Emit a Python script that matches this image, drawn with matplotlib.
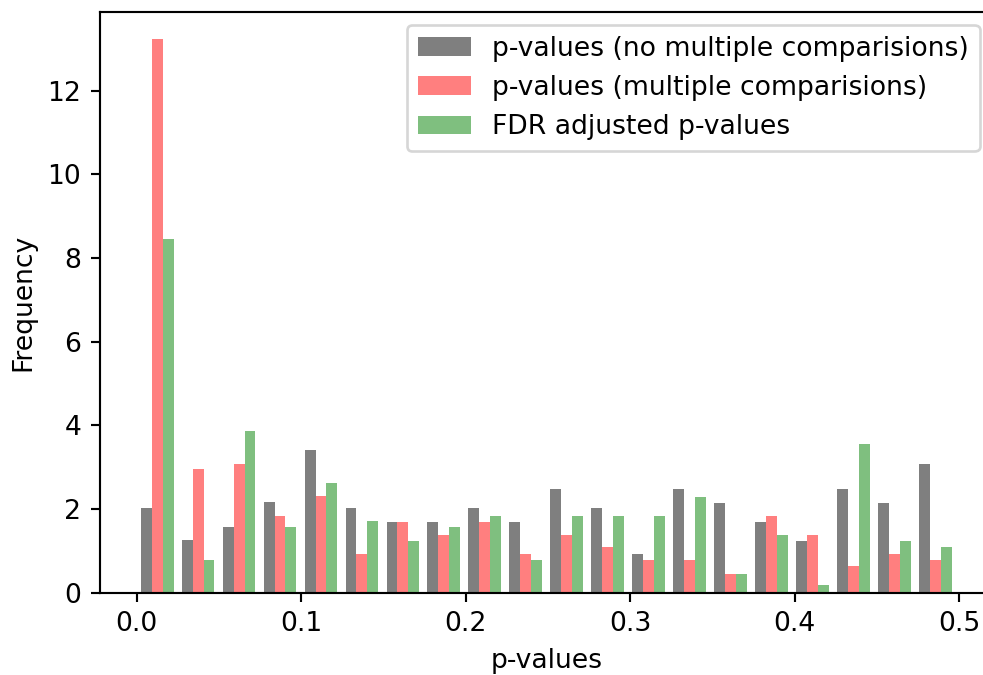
import numpy as np
import matplotlib
matplotlib.use("Agg")
import matplotlib.pyplot as plt

bin_edges = np.linspace(0.0, 0.498, 21)
bin_centers = 0.5 * (bin_edges[:-1] + bin_edges[1:])

labels = ["p-values (no multiple comparisions)",
          "p-values (multiple comparisions)",
          "FDR adjusted p-values"]
colors = ["k", "r", "g"]

gray_vals = [2.02, 1.25, 1.58, 2.17, 3.40, 2.02, 1.70, 1.70, 2.02, 1.70,
             2.48, 2.02, 0.92, 2.48, 2.15, 1.70, 1.24, 2.48, 2.15, 3.08]
red_vals = [13.23, 2.95, 3.08, 1.84, 2.31, 0.93, 1.70, 1.37, 1.70, 0.92,
            1.37, 1.10, 0.77, 0.77, 0.45, 1.83, 1.37, 0.64, 0.92, 0.77]
green_vals = [8.45, 0.78, 3.87, 1.58, 2.63, 1.72, 1.24, 1.56, 1.83, 0.77,
              1.83, 1.83, 1.83, 2.29, 0.45, 1.37, 0.18, 3.55, 1.24, 1.10]

DPI = 192
fig = plt.figure(figsize=(983 / DPI, 675 / DPI), dpi=DPI)
ax = fig.add_axes([100 / 983, 1 - 592.7 / 675, 893 / 983, (592.7 - 11.7) / 675])

ax.hist([bin_centers, bin_centers, bin_centers], bins=bin_edges,
        weights=[gray_vals, red_vals, green_vals],
        color=colors, alpha=0.5, label=labels)
ax.set_xlim(-0.0223, 0.5206)
ax.set_xlabel("p-values")
ax.set_ylabel("Frequency")
ax.legend(loc="upper right")

fig.savefig("out.png", dpi=DPI)
